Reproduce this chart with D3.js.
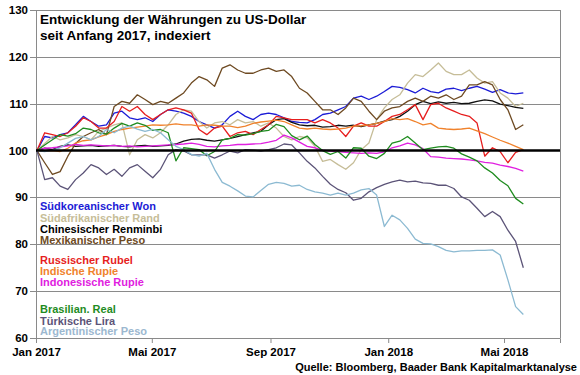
<!DOCTYPE html>
<html>
<head>
<meta charset="utf-8">
<script src="https://cdn.jsdelivr.net/npm/d3@7"></script>
<style>
body { margin: 0; background: #fff; }
svg { font-family: "Liberation Sans", Arial, sans-serif; }
.tick-text { font-size: 11.5px; font-weight: bold; fill: #000; }
.title-text { font-size: 13.5px; font-weight: bold; fill: #000; }
.legend-text { font-size: 11px; font-weight: bold; }
.source-text { font-size: 11px; font-weight: bold; fill: #000; }
</style>
</head>
<body>
<svg width="580" height="375"></svg>
<script>
// Werte indexiert (Anfang 2017 = 100), Stützpunkte alle 8 Tage
const startDate = new Date(2017, 0, 2);
const stepDays = 8;

const won = [100, 103, 102.7, 103.4, 103.8, 105.5, 107.3, 106.2, 105.2, 105.5,
    108, 108.4, 107, 106.6, 107, 106.2, 107.7, 108.7, 108.4, 108,
    107.3, 106.2, 105.5, 104.8, 105.5, 107.3, 108.4, 107.3, 106.6, 107.7,
    108, 107.7, 107, 106.2, 106, 105.9, 106.6, 107.7, 108, 108.7,
    109.4, 111.2, 111.6, 110.9, 111.6, 112.6, 113.7, 113.5, 113, 112.3,
    113.3, 112.6, 112.3, 113.1, 113.3, 112.8, 113.3, 113.7, 113.1, 112.4,
    113, 112.3, 112.1, 112.3];
const rand = [100, 101.5, 103, 102.3, 102.7, 103.4, 103, 102.3, 104.1, 104.8,
    105.5, 105.9, 99.1, 102.3, 103.4, 102.7, 103.8, 105.5, 107.7, 108.7,
    108.4, 106.2, 104.8, 105.9, 106.2, 105.5, 106.6, 105.9, 106.2, 105.2,
    105.9, 104.8, 103, 102.3, 103, 102.7, 100.9, 97.7, 98.1, 97,
    96, 97.4, 100.2, 101.6, 106.6, 109.1, 110.9, 111.9, 114.4, 116.2,
    115.8, 117.2, 118.7, 116.9, 116.2, 116.2, 117.2, 115.5, 114.4, 114.7,
    112.3, 111.2, 109.4, 110.1];
const renminbi = [100, 100.5, 100.2, 100.9, 101.2, 100.9, 101, 101.1, 100.9, 101,
    101.1, 100.9, 100.8, 101, 101.1, 100.9, 101, 101.1, 101.4, 102,
    102.4, 102.5, 102.2, 102, 102.3, 102.6, 103, 103.4, 103.8, 104.1,
    105.5, 106.6, 106.8, 106, 105.5, 105.3, 105.4, 105, 105.1, 105.4,
    105.2, 105.4, 105.1, 105.5, 105.8, 106.3, 106.6, 107.3, 108.4, 109.8,
    110.5, 110, 110.4, 110.1, 110.3, 110, 110.1, 110.5, 110.8, 110.6,
    109.9, 109.6, 109.2, 109];
const mxPeso = [100, 97.4, 94.9, 95.5, 98.8, 101.5, 103, 103.8, 104.5, 103.4,
    109.4, 110.5, 110.1, 111.9, 110.9, 109.8, 110.5, 110.1, 111.2, 112.3,
    114.4, 115.8, 115.1, 113.7, 117.6, 118.3, 117.2, 116.5, 116.5, 117.2,
    117.6, 116.9, 117.2, 115.8, 113.3, 112.3, 110.5, 108.7, 108.7, 107.7,
    109.1, 111.2, 110.5, 108.4, 106.6, 108.4, 109.1, 109.4, 110.5, 111.2,
    110.5, 111.6, 111.2, 111.9, 110.9, 111.6, 114, 114, 114.7, 114,
    110.9, 108.7, 104.5, 105.5];
const rubel = [100, 103.8, 103.4, 103, 103.8, 105.2, 107, 106.2, 104.8, 104.8,
    106.2, 109.4, 108.4, 109.4, 107.7, 106.6, 107.7, 108.7, 109.1, 108.7,
    108, 104.5, 103.4, 104.8, 105.2, 103, 103.8, 104.1, 103.4, 104.5,
    105.5, 107.3, 107, 106.6, 106.6, 106.6, 105.9, 106.6, 105.9, 104.8,
    103, 105.2, 105.9, 105.2, 105.2, 106.2, 107.3, 107.7, 108.7, 109.8,
    106.6, 109.8, 110.1, 109.1, 108.4, 107.7, 107.3, 105.9, 98.8, 100.6,
    99.8, 97.4, 99.6, 100.2];
const inrRupie = [100, 99.9, 100, 99.8, 100.5, 101.6, 102.1, 102.3, 102.9, 103.4,
    104.1, 104.5, 104.8, 105, 105.2, 105.5, 105.4, 105.5, 105.7, 105.5,
    105.5, 105.2, 105.5, 105.4, 105.2, 105.2, 104.9, 105.2, 105.8, 106.1,
    106.3, 106.5, 106.2, 105.5, 104.8, 104.6, 104.8, 104.6, 104.5, 104.6,
    104.8, 105.2, 105.3, 105.5, 105.8, 106.2, 106.8, 106.6, 106.8, 106.2,
    105.5, 105.8, 104.8, 104.6, 104.5, 104.6, 104.8, 104.2, 103.6, 102.9,
    102.2, 101.6, 100.9, 100.2];
const idrRupie = [100, 100.5, 100.6, 100.8, 101, 101.3, 101.1, 101.2, 101.1, 101,
    101.1, 100.9, 101, 100.8, 100.9, 101, 101.1, 101.2, 101.3, 101.4,
    101.6, 101.3, 100.9, 100.8, 101, 101.1, 101.3, 101.3, 101.4, 101.5,
    101.8, 102.2, 103.3, 102.7, 101.8, 100.9, 100.6, 100.1, 99.9, 99.8,
    99.6, 99.5, 99.4, 99.5, 99.4, 99.7, 100.6, 101, 101.6, 101.2,
    100.4, 98.7, 98.6, 98.4, 98.3, 98.2, 98, 97.8, 97.5, 97.3,
    96.9, 96.6, 96.2, 95.6];
const real = [100, 101.2, 102.3, 103.4, 103.1, 103.6, 104.8, 104.5, 103.8, 103.5,
    104.8, 105.8, 105.2, 105.9, 105.4, 104.3, 104.5, 103.8, 97.8, 100.6,
    100.4, 100.2, 98.9, 99.8, 102.3, 102.6, 103.4, 103.3, 103.6, 104.1,
    104.3, 105.6, 105.1, 103.2, 102.3, 103.1, 101.3, 100, 99.2, 99.8,
    98.4, 100.6, 100.5, 98.8, 98.3, 99.4, 101.6, 102, 103, 101.6,
    100.2, 100.5, 100.8, 100.9, 100.5, 99.3, 98.6, 97.8, 96.3, 95.2,
    93.6, 92.5, 89.8, 88.6];
const lira = [100, 93.8, 94.2, 92.4, 91.7, 93.8, 95.2, 97, 96.3, 94.9,
    96, 94.5, 96.3, 97, 95.6, 94.2, 96, 99.1, 100.2, 99.9,
    99.1, 99.1, 99.1, 98.4, 99.1, 99.9, 99.5, 100.2, 100.1, 99.9,
    100.2, 100.6, 101.4, 101.2, 99.5, 97.7, 96.3, 94.5, 92.8, 91.7,
    91, 89.4, 89.8, 91.2, 92.1, 92.8, 93.3, 93.7, 93.3, 93.5,
    93.1, 93, 92.6, 92.6, 91.9, 90.1, 89.4, 87.7, 85.9, 87,
    85.9, 83, 80.6, 75];
const arsPeso = [100, 99.8, 100.1, 100.6, 101.6, 102.6, 103, 102.3, 103, 104.5,
    103.8, 104.8, 105.2, 104.6, 104.1, 104.5, 103.8, 102.3, 100.9, 100.2,
    99.2, 98.8, 99.4, 96, 93.2, 92.4, 91.4, 90.3, 90.1, 91.5,
    92.8, 93.2, 93, 92.4, 92.6, 91.7, 91.2, 90.9, 90.5, 90.9,
    90.5, 90.9, 91.6, 91.9, 90.5, 83.8, 86.2, 85.2, 83.4, 81.1,
    80.2, 80.1, 79.5, 78.7, 78.4, 78.6, 78.6, 78.7, 78.7, 78.8,
    77.7, 72.4, 66.7, 65];

const seriesNames = ["Südkoreanischer Won", "Südafrikanischer Rand", "Chinesischer Renminbi",
    "Mexikanischer Peso", "Russischer Rubel", "Indische Rupie", "Indonesische Rupie",
    "Brasilian. Real", "Türkische Lira", "Argentinischer Peso"];
const seriesValues = [won, rand, renminbi, mxPeso, rubel, inrRupie, idrRupie, real, lira, arsPeso];
const seriesColors = ["#1c1cd6", "#c6bd98", "#111111", "#6e4a22", "#e61e1e",
    "#f0822c", "#e020e0", "#1f8c1f", "#5c5478", "#8cbad2"];
const legendTextColors = ["#1c1cd6", "#c6bd98", "#000000", "#6e4a22", "#e61e1e",
    "#f0822c", "#e020e0", "#1f8c1f", "#5c5478", "#9cb8d0"];

const yTicks = [60, 70, 80, 90, 100, 110, 120, 130];
const xTickDates = [new Date(2017, 0, 1), new Date(2017, 4, 1), new Date(2017, 8, 1),
    new Date(2018, 0, 1), new Date(2018, 4, 1)];
const xTickLabels = ["Jan 2017", "Mai 2017", "Sep 2017", "Jan 2018", "Mai 2018"];

const titleLines = ["Entwicklung der Währungen zu US-Dollar", "seit Anfang 2017, indexiert"];
const sourceText = "Quelle: Bloomberg, Baader Bank Kapitalmarktanalyse";

const dates = won.map(function(d, i) { return d3.timeDay.offset(startDate, i * stepDays); });

const plot = {left: 36, right: 560, top: 10, bottom: 338};
// Grundlinien der Legende (Gruppen mit Abstand)
const legendRows = [210, 221.5, 232.5, 243.5, 264, 275, 286, 313, 324.5, 335];

let svg = d3.select("svg");

let x = d3.scaleTime()
    .domain([new Date(2017, 0, 1), new Date(2018, 5, 28)])
    .range([plot.left, plot.right]);
let y = d3.scaleLinear()
    .domain([60, 130])
    .range([plot.bottom, plot.top]);

// Gitterlinien
svg.append("g")
    .selectAll("line")
    .data(yTicks.filter(function(t) { return t != 100; }))
    .enter()
    .append("line")
    .attr("x1", plot.left - 6)
    .attr("x2", plot.right)
    .attr("y1", function(d) { return Math.round(y(d)) + 0.5; })
    .attr("y2", function(d) { return Math.round(y(d)) + 0.5; })
    .attr("stroke", "#8a8a8a")
    .attr("stroke-width", 1);

svg.append("line")
    .attr("x1", plot.left + 0.5).attr("x2", plot.left + 0.5)
    .attr("y1", plot.top).attr("y2", plot.bottom)
    .attr("stroke", "#8a8a8a");
svg.append("line")
    .attr("x1", plot.right + 0.5).attr("x2", plot.right + 0.5)
    .attr("y1", plot.top).attr("y2", plot.bottom)
    .attr("stroke", "#8a8a8a");

// y-Achse Beschriftung
svg.append("g")
    .selectAll("text")
    .data(yTicks)
    .enter()
    .append("text")
    .attr("class", "tick-text")
    .attr("text-anchor", "end")
    .attr("x", plot.left - 8)
    .attr("y", function(d) { return y(d) + 4; })
    .text(function(d) { return d; });

// x-Achse
svg.append("g")
    .attr("transform", "translate(0," + plot.bottom + ")")
    .call(d3.axisBottom(x)
        .tickValues(xTickDates)
        .tickSize(5)
        .tickFormat(function(d, i) { return xTickLabels[i]; }))
    .call(function(g) {
        g.select(".domain").attr("stroke", "#8a8a8a");
        g.selectAll(".tick line").attr("stroke", "#8a8a8a");
        g.selectAll(".tick text")
            .attr("class", "tick-text")
            .attr("dy", null)
            .attr("y", 18)
            .attr("font-family", null)
            .attr("font-size", null);
    });

// Linien
let line = d3.line()
    .x(function(d, i) { return x(dates[i]); })
    .y(function(d) { return y(d); });

svg.append("g")
    .selectAll("path")
    .data(seriesValues)
    .enter()
    .append("path")
    .attr("d", line)
    .attr("fill", "none")
    .attr("stroke", function(d, i) { return seriesColors[i]; })
    .attr("stroke-width", 1.3)
    .attr("stroke-linejoin", "round");

// 100er Linie
svg.append("line")
    .attr("x1", plot.left)
    .attr("x2", plot.right)
    .attr("y1", y(100))
    .attr("y2", y(100))
    .attr("stroke", "#000")
    .attr("stroke-width", 2.5);

// Titel
svg.append("g")
    .selectAll("text")
    .data(titleLines)
    .enter()
    .append("text")
    .attr("class", "title-text")
    .attr("x", 40)
    .attr("y", function(d, i) { return 24 + i * 16; })
    .text(function(d) { return d; });

// Legende
svg.append("g")
    .selectAll("text")
    .data(seriesNames)
    .enter()
    .append("text")
    .attr("class", "legend-text")
    .attr("x", 40)
    .attr("y", function(d, i) { return legendRows[i]; })
    .attr("fill", function(d, i) { return legendTextColors[i]; })
    .text(function(d) { return d; });

svg.append("text")
    .attr("class", "source-text")
    .attr("text-anchor", "end")
    .attr("x", 577)
    .attr("y", 371)
    .text(sourceText);
</script>
</body>
</html>
